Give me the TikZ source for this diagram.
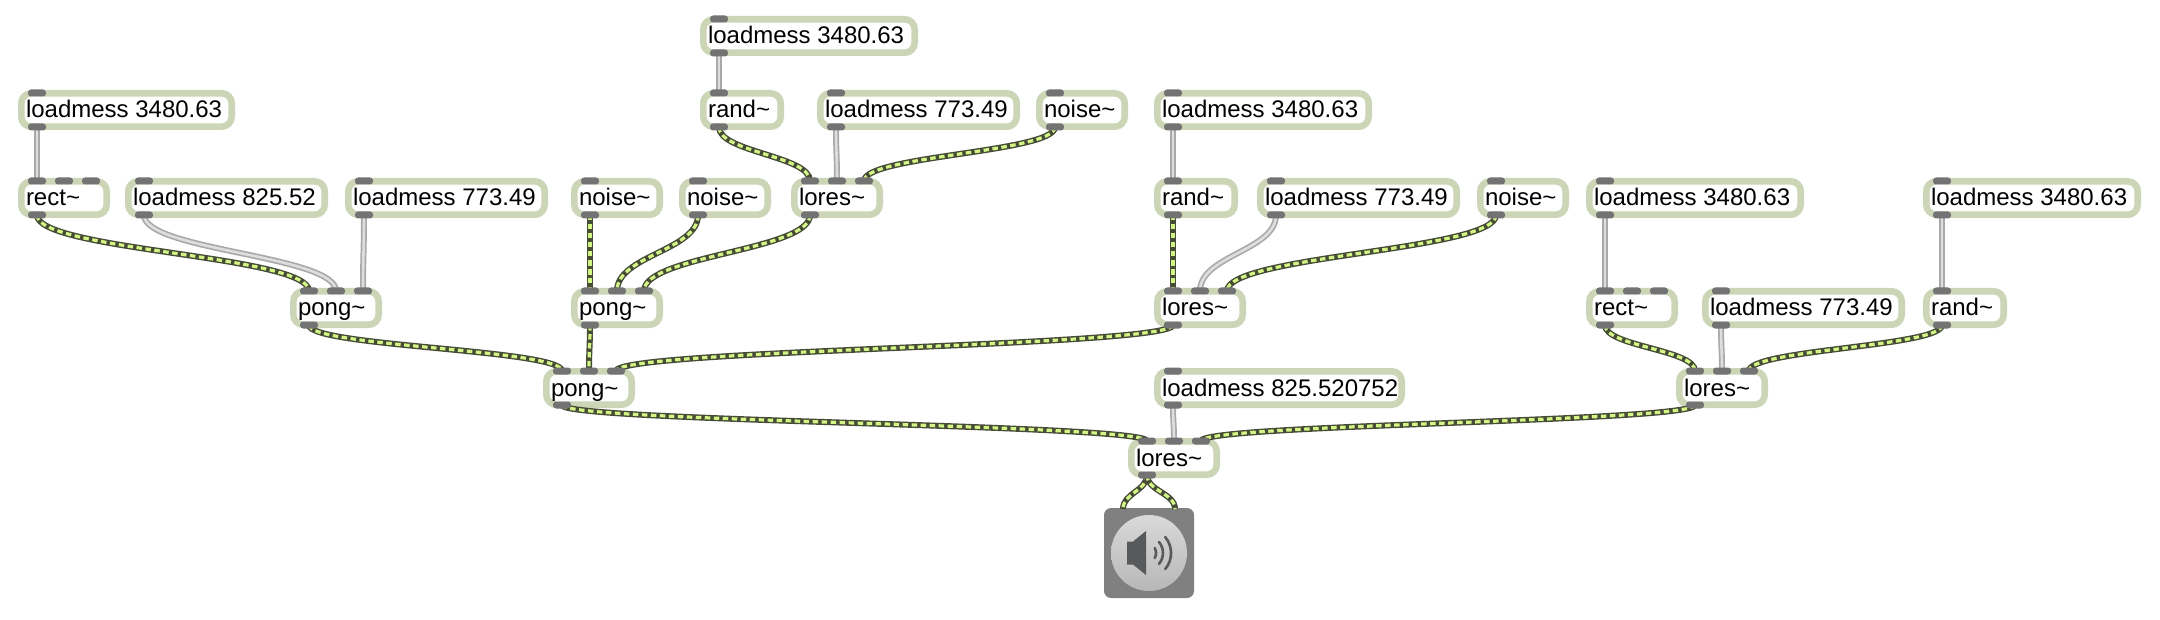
\documentclass[tikz,border=0pt]{standalone}
\usepackage{fontspec}
\usetikzlibrary{calc}
\setmainfont{Liberation Sans}
\pgfdeclarelayer{boxes}
\pgfdeclarelayer{ports}
\pgfsetlayers{boxes,main,ports}
\definecolor{boxedge}{HTML}{CDD5B7}
\definecolor{portgray}{HTML}{737373}
\definecolor{audiodark}{HTML}{474C36}
\definecolor{audiolime}{HTML}{D2F585}
\definecolor{ctrlmid}{HTML}{A9A9A9}
\definecolor{ctrllight}{HTML}{DEDEDE}
\definecolor{iconbg}{HTML}{808080}
\definecolor{icondark}{HTML}{58595B}
\tikzset{
  objbox/.style={draw=boxedge,fill=white,line width=6.6pt,rounded corners=10pt,anchor=north west,minimum height=33.4pt,inner sep=0pt,outer sep=0pt},
  objtext/.style={anchor=base west,inner sep=0pt,outer sep=0pt,font=\fontsize{24}{28}\selectfont,text=black},
  portbar/.style={fill=portgray,rounded corners=3pt,minimum width=18pt,minimum height=7pt,inner sep=0pt,outer sep=0pt},
  audiobase/.style={draw=audiodark,line width=6pt},
  audiotop/.style={draw=audiolime,line width=3.2pt,dash pattern=on 5.5pt off 3.5pt},
  ctrlbase/.style={draw=ctrlmid,line width=6pt},
  ctrltop/.style={draw=ctrllight,line width=2.6pt},
  speakerarc/.style={draw=icondark,line width=2.6pt,line cap=round}
}
% name, x, y, width, text, number of inlets
\newcommand{\obj}[6]{%
  \begin{pgfonlayer}{boxes}
    \node[objbox,minimum width=#4pt-6.6pt] (#1) at (#2+3.3,#3+3.3) {};
    \node[objtext] (#1-t) at (#2+8,#3+28) {#5};
  \end{pgfonlayer}
  \begin{pgfonlayer}{ports}
    \foreach \k in {1,...,#6} {
      \node[portbar] (#1-i\k) at ({#2+19+27*(\k-1)},#3+3) {};
    }
    \node[portbar] (#1-o) at (#2+19,#3+37) {};
  \end{pgfonlayer}%
}
\newcommand{\cordline}[3]{%
  \draw[#1] let \p1=(#2.center),\p2=(#3.center),\n1={(\y1-\y2)*0.47} in
    (#2.center) .. controls ([yshift=-\n1]#2.center) and ([yshift=\n1]#3.center) .. (#3.center);%
}
\newcommand{\audio}[2]{\cordline{audiobase}{#1}{#2}\cordline{audiotop}{#1}{#2}}
\newcommand{\ctrl}[2]{\cordline{ctrlbase}{#1}{#2}\cordline{ctrltop}{#1}{#2}}
\begin{document}
\begin{tikzpicture}[x=1pt,y=-1pt]
\useasboundingbox (0,0) rectangle (2160,620);
% left group
\obj{a1}{18}{90}{217}{loadmess 3480.63}{1}
\obj{a2}{18}{178}{92}{rect\textasciitilde}{3}
\obj{a3}{125}{178}{203}{loadmess 825.52}{1}
\obj{a4}{345}{178}{203}{loadmess 773.49}{1}
\obj{a5}{290}{288}{92}{pong\textasciitilde}{3}
% middle group
\obj{b1}{700}{16}{218}{loadmess 3480.63}{1}
\obj{b2}{700}{90}{84}{rand\textasciitilde}{1}
\obj{b3}{817}{90}{203}{loadmess 773.49}{1}
\obj{b4}{1036}{90}{92}{noise\textasciitilde}{1}
\obj{b5}{791}{178}{92}{lores\textasciitilde}{3}
\obj{b6}{679}{178}{92}{noise\textasciitilde}{1}
\obj{b7}{571}{178}{92}{noise\textasciitilde}{1}
\obj{b8}{571}{288}{92}{pong\textasciitilde}{3}
\obj{b9}{543}{368}{92}{pong\textasciitilde}{3}
% right-middle group
\obj{c1}{1154}{90}{218}{loadmess 3480.63}{1}
\obj{c2}{1154}{178}{84}{rand\textasciitilde}{1}
\obj{c3}{1257}{178}{203}{loadmess 773.49}{1}
\obj{c4}{1477}{178}{92}{noise\textasciitilde}{1}
\obj{c5}{1154}{288}{92}{lores\textasciitilde}{3}
% right group
\obj{d1}{1586}{178}{218}{loadmess 3480.63}{1}
\obj{d2}{1586}{288}{92}{rect\textasciitilde}{3}
\obj{d3}{1702}{288}{203}{loadmess 773.49}{1}
\obj{d4}{1923}{178}{218}{loadmess 3480.63}{1}
\obj{d5}{1923}{288}{84}{rand\textasciitilde}{1}
\obj{d6}{1676}{368}{92}{lores\textasciitilde}{3}
% output
\obj{e1}{1154}{368}{251}{loadmess 825.520752}{1}
\obj{e2}{1128}{438}{92}{lores\textasciitilde}{3}
% speaker
\begin{pgfonlayer}{boxes}
  \node[fill=iconbg,rounded corners=7pt,minimum width=90pt,minimum height=90pt,inner sep=0pt,outer sep=0pt,anchor=north west] (dac) at (1104,508) {};
  \shade[top color=black!15,bottom color=black!28] (1149,553) circle (38);
  \fill[icondark] (1127,541.5) -- (1133,541.5) -- (1146,531) -- (1146,575) -- (1133,564.5) -- (1127,564.5) -- cycle;
  \draw[speakerarc] (1154.7,548) arc (-30:30:10);
  \draw[speakerarc] (1159,542) arc (-40:40:17);
  \draw[speakerarc] (1165.2,537) arc (-40:40:25);
\end{pgfonlayer}
\coordinate (dacL) at (1123,509);
\coordinate (dacR) at (1175,509);
% cords
\ctrl{a1-o}{a2-i1}
\audio{a2-o}{a5-i1}
\ctrl{a3-o}{a5-i2}
\ctrl{a4-o}{a5-i3}
\audio{a5-o}{b9-i1}
\ctrl{b1-o}{b2-i1}
\audio{b2-o}{b5-i1}
\ctrl{b3-o}{b5-i2}
\audio{b4-o}{b5-i3}
\audio{b7-o}{b8-i1}
\audio{b6-o}{b8-i2}
\audio{b5-o}{b8-i3}
\audio{b8-o}{b9-i2}
\audio{c5-o}{b9-i3}
\ctrl{c1-o}{c2-i1}
\audio{c2-o}{c5-i1}
\ctrl{c3-o}{c5-i2}
\audio{c4-o}{c5-i3}
\ctrl{d1-o}{d2-i1}
\audio{d2-o}{d6-i1}
\ctrl{d3-o}{d6-i2}
\ctrl{d4-o}{d5-i1}
\audio{d5-o}{d6-i3}
\audio{b9-o}{e2-i1}
\ctrl{e1-o}{e2-i2}
\audio{d6-o}{e2-i3}
\audio{e2-o}{dacL}
\audio{e2-o}{dacR}
\end{tikzpicture}
\end{document}
